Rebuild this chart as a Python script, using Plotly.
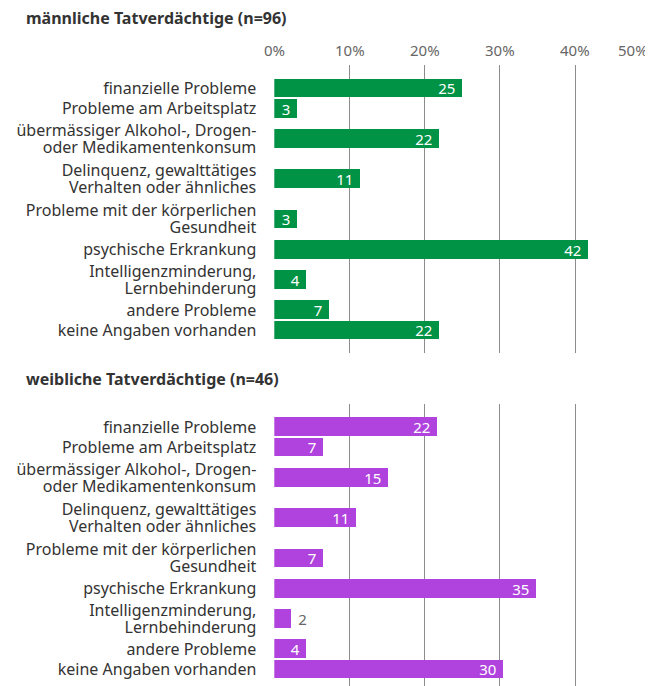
import plotly.graph_objects as go
import numpy as np

categories = [
    "finanzielle Probleme",
    "Probleme am Arbeitsplatz",
    "übermässiger Alkohol-, Drogen-<br>oder Medikamentenkonsum",
    "Delinquenz, gewalttätiges<br>Verhalten oder ähnliches",
    "Probleme mit der körperlichen<br>Gesundheit",
    "psychische Erkrankung",
    "Intelligenzminderung,<br>Lernbehinderung",
    "andere Probleme",
    "keine Angaben vorhanden",
]
male_values = [25.0, 3.1, 21.9, 11.4, 3.1, 41.7, 4.2, 7.3, 21.9]
female_values = [21.7, 6.5, 15.2, 10.9, 6.5, 34.8, 2.2, 4.3, 30.4]
male_title = "männliche Tatverdächtige (n=96)"
female_title = "weibliche Tatverdächtige (n=46)"
tick_values = [0, 10, 20, 30, 40, 50]
tick_labels = ["0%", "10%", "20%", "30%", "40%", "50%"]

GREEN = "#009245"
PURPLE = "#b043dd"
GRID = "#8c8c8c"
FONT = "Noto Sans"
OFF = 8                      # page body margin
W, H = 653 - OFF, 686 - OFF  # figure size
LINE_GAP = 0.843             # label line spacing in slot units

# slot positions derived from number of label lines
lines = np.array([c.count("<br>") + 1 for c in categories])
centers = np.cumsum(lines) - lines / 2.0

# one tick per label line (tighter line spacing than plotly's default)
label_pos, label_txt = [], []
for c, parts in zip(centers, [cat.split("<br>") for cat in categories]):
    n = len(parts)
    for k, p in enumerate(parts):
        label_pos.append(c + (k - (n - 1) / 2) * LINE_GAP)
        label_txt.append(p)


def fx(x):
    return (x - OFF) / W


def fy(y):
    return 1 - (y - OFF) / H


def rnd(v):
    return int(v + 0.5)


fig = go.Figure()


def add_bars(values, color, xa, ya):
    positions = ["outside" if v < 2.5 else "inside" for v in values]
    fig.add_trace(go.Bar(
        x=values, y=centers, orientation="h",
        marker=dict(color=color, line=dict(width=0)),
        width=0.93,
        text=[f"{rnd(v)}\u00a0" if p == "inside" else f"\u00a0{rnd(v)}" for v, p in zip(values, positions)],
        textposition=positions,
        textangle=0,
        insidetextanchor="end",
        insidetextfont=dict(color="white", size=15, family=FONT),
        outsidetextfont=dict(color="#666666", size=15, family=FONT),
        constraintext="none",
        cliponaxis=False,
        hoverinfo="skip",
        showlegend=False,
        xaxis=xa, yaxis=ya,
    ))


add_bars(male_values, GREEN, "x", "y")
add_bars(female_values, PURPLE, "x2", "y2")

xdom = [fx(274.3), fx(650.3)]
xaxis_common = dict(
    range=[0, 50], domain=xdom, showgrid=True, gridcolor=GRID, gridwidth=1,
    tickvals=tick_values, showticklabels=False, zeroline=False,
    showline=False, fixedrange=True,
)
yaxis_common = dict(
    tickvals=label_pos, ticktext=label_txt, showgrid=False, zeroline=False,
    showline=False, ticks="", tickfont=dict(size=16, color="#333333", family=FONT),
    ticklabelstandoff=17, fixedrange=True,
)

fig.update_layout(
    width=W, height=H,
    margin=dict(l=0, r=0, t=0, b=0),
    paper_bgcolor="white", plot_bgcolor="white",
    font=dict(family=FONT, color="#333333"),
    bargap=0,
    xaxis=dict(**xaxis_common, anchor="y"),
    yaxis=dict(**yaxis_common, range=[13.61, -0.64], domain=[fy(352.7), fy(65.3)], anchor="x"),
    xaxis2=dict(**xaxis_common, anchor="y2"),
    yaxis2=dict(**yaxis_common, range=[13.33, -0.63], domain=[0, fy(404.3)], anchor="x2"),
)

annotations = [
    dict(text=f"<b>{male_title}</b>", x=fx(24), y=fy(18), xref="paper", yref="paper",
         xanchor="left", yanchor="middle", showarrow=False,
         font=dict(size=16, color="#333333", family=FONT)),
    dict(text=f"<b>{female_title}</b>", x=fx(24), y=fy(379), xref="paper", yref="paper",
         xanchor="left", yanchor="middle", showarrow=False,
         font=dict(size=16, color="#333333", family=FONT)),
]
for i, (v, t) in enumerate(zip(tick_values, tick_labels)):
    annotations.append(dict(
        text=t, x=v, xref="x", y=fy(49.5), yref="paper",
        xanchor="right" if i == len(tick_values) - 1 else "center",
        yanchor="middle", showarrow=False,
        font=dict(size=15, color="#666666", family=FONT),
    ))
fig.update_layout(annotations=annotations)

fig.write_html("out.html")
